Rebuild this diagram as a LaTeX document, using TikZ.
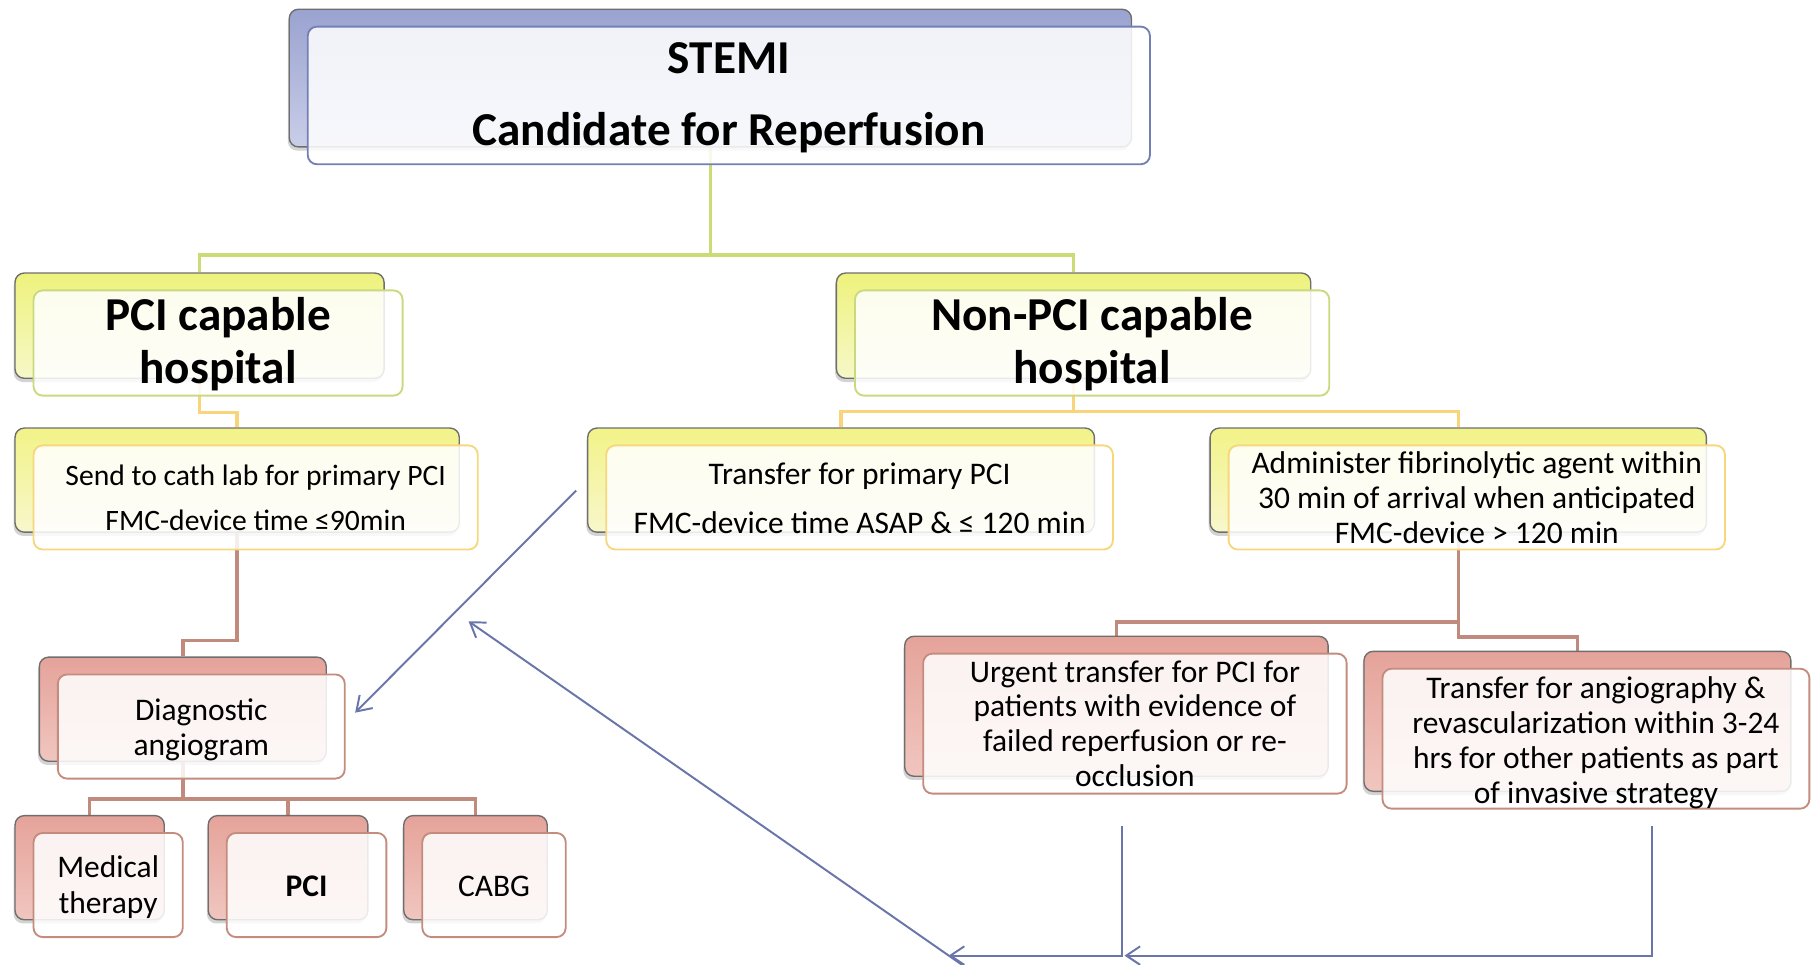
\documentclass[tikz,border=0pt]{standalone}
\usepackage{fontspec}
\setmainfont{Carlito}
\usetikzlibrary{fit,shadows,arrows.meta,backgrounds}
\definecolor{lavA}{HTML}{9AA3D0}
\definecolor{lavB}{HTML}{C9CEE8}
\definecolor{blueEdge}{HTML}{7480B5}
\definecolor{ygA}{HTML}{EEF27C}
\definecolor{ygB}{HTML}{F6F8C8}
\definecolor{ygEdge}{HTML}{C9DA7E}
\definecolor{yA}{HTML}{F2F388}
\definecolor{yB}{HTML}{F8F7CC}
\definecolor{yEdge}{HTML}{F7D77C}
\definecolor{sA}{HTML}{E5A39A}
\definecolor{sB}{HTML}{F0C6BF}
\definecolor{sEdge}{HTML}{C48C7C}
\definecolor{bordgray}{HTML}{6E6E6E}
\definecolor{arrowblue}{HTML}{6A76A9}
\definecolor{lnG}{HTML}{CDDB77}
\definecolor{lnY}{HTML}{F8D57A}
\definecolor{lnR}{HTML}{C08B7C}
\tikzset{
  backbox/.style={draw=bordgray, line width=0.6pt, rounded corners=4pt, inner sep=0pt,
    drop shadow={opacity=0.35, shadow xshift=-0.6pt, shadow yshift=-1.6pt}},
  frontbox/.style={rounded corners=4pt, inner sep=0pt, line width=0.8pt, fill=white,
    fill opacity=0.86},
  boxtext/.style={align=center, inner sep=0pt, font=\fontsize{13.6}{15.2}\selectfont},
  blueback/.style={backbox, top color=lavA, bottom color=lavB},
  bluefront/.style={frontbox, draw=blueEdge},
  ygback/.style={backbox, top color=ygA, bottom color=ygB},
  ygfront/.style={frontbox, draw=ygEdge},
  yback/.style={backbox, top color=yA, bottom color=yB},
  yfront/.style={frontbox, draw=yEdge},
  sback/.style={backbox, top color=sA, bottom color=sB},
  sfront/.style={frontbox, draw=sEdge},
  title/.style={font=\fontsize{20.4}{22.5}\selectfont\bfseries},
  lineG/.style={draw=lnG, line width=1.5pt},
  lineY/.style={draw=lnY, line width=1.5pt},
  lineR/.style={draw=lnR, line width=1.5pt},
  barrow/.style={draw=arrowblue, line width=0.85pt, -{Straight Barb[length=6pt,width=8pt]}},
}
% #1 name, #2-#5 back box corners, #6 colour family, #7 text style, #8 text, #9 text shift
\newcommand{\pairbox}[9]{%
  \node[#6back, fit={(#2,#3) (#4,#5)}] (#1b) {};
  \node[#6front, fit={(#2+16,#3+15) (#4+16,#5+15)}] (#1) {};
  \node[boxtext, #7] (#1t) at ([yshift=-#9*0.5pt]#1.center) {#8};
}
\begin{document}
\begin{tikzpicture}[x=0.5pt,y=-0.5pt]
\useasboundingbox (0,0) rectangle (1568,834);

\pairbox{stemi}{250}{8}{978}{127}{blue}{font=\fontsize{20.4}{31.5}\selectfont\bfseries}{STEMI\\Candidate for Reperfusion}{2}
\pairbox{pci}{13}{236}{332}{327}{yg}{title}{PCI capable\\hospital}{1}
\pairbox{non}{723}{236}{1133}{327}{yg}{title}{Non-PCI capable\\hospital}{1}
\pairbox{send}{13}{370}{397}{460}{y}{font=\fontsize{12.8}{19.5}\selectfont}{Send to cath lab for primary PCI\\FMC-device time ≤90min}{0}
\pairbox{trans}{508}{370}{946}{460}{y}{font=\fontsize{13.6}{21}\selectfont}{Transfer for primary PCI\\FMC-device time ASAP \& ≤ 120 min}{0.5}
\pairbox{admin}{1046}{370}{1475}{460}{y}{}{Administer fibrinolytic agent within\\30 min of arrival when anticipated\\FMC-device > 120 min}{0}
\pairbox{diag}{34}{568}{282}{658}{s}{}{Diagnostic\\angiogram}{3}
\pairbox{med}{13}{705}{142}{795}{s}{font=\fontsize{13.6}{15.5}\selectfont}{Medical\\therapy}{2}
\pairbox{pcix}{180}{705}{318}{795}{s}{font=\fontsize{13.6}{15.5}\selectfont\bfseries}{PCI}{1}
\pairbox{cabg}{349}{705}{473}{795}{s}{}{CABG}{1}
\pairbox{urg}{782}{550}{1148}{671}{s}{font=\fontsize{13.6}{15}\selectfont}{Urgent transfer for PCI for\\patients with evidence of\\failed reperfusion or re-\\occlusion}{0}
\pairbox{ang}{1179}{563}{1548}{684}{s}{font=\fontsize{13.6}{15.2}\selectfont}{Transfer for angiography \&\\revascularization within 3-24\\hrs for other patients as part\\of invasive strategy}{3.5}

\begin{scope}[on background layer]
\draw[lineG] (stemib.south) -- ++(0,93) -| (pcib.north);
\draw[lineG] (stemib.south) -- ++(0,93) -| (nonb.north);
\draw[lineY] (pcib.south) -- ++(0,29) -| (sendb.north);
\draw[lineY] (nonb.south) -- ++(0,28) -| (transb.north);
\draw[lineY] (nonb.south) -- ++(0,28) -| (adminb.north);
\draw[lineR] (sendb.south) -- ++(0,93) -| (diagb.north);
\draw[lineR] (diagb.south) -- ++(0,32) -| (medb.north);
\draw[lineR] (diagb.south) -- ++(0,32) -| (pcixb.north);
\draw[lineR] (diagb.south) -- ++(0,32) -| (cabgb.north);
\draw[lineR] (adminb.south) -- ++(0,77) -| (urgb.north);
\draw[lineR] (adminb.south) -- ++(0,90) -| (angb.north);
\end{scope}

\coordinate (a1s) at (498,424);
\coordinate (a1e) at (307,616);
\coordinate (a2s) at (1428,714);
\coordinate (a2c) at (1428,826);
\coordinate (a2e) at (972,826);
\coordinate (a3s) at (970,714);
\coordinate (a3c) at (970,826);
\coordinate (a3e) at (820,826);
\coordinate (a4s) at (833,835);
\coordinate (a4e) at (405,537);
\draw[barrow] (a1s) -- (a1e);
\draw[barrow] (a2s) -- (a2c) -- (a2e);
\draw[barrow] (a3s) -- (a3c) -- (a3e);
\draw[barrow] (a4s) -- (a4e);
\end{tikzpicture}
\end{document}
